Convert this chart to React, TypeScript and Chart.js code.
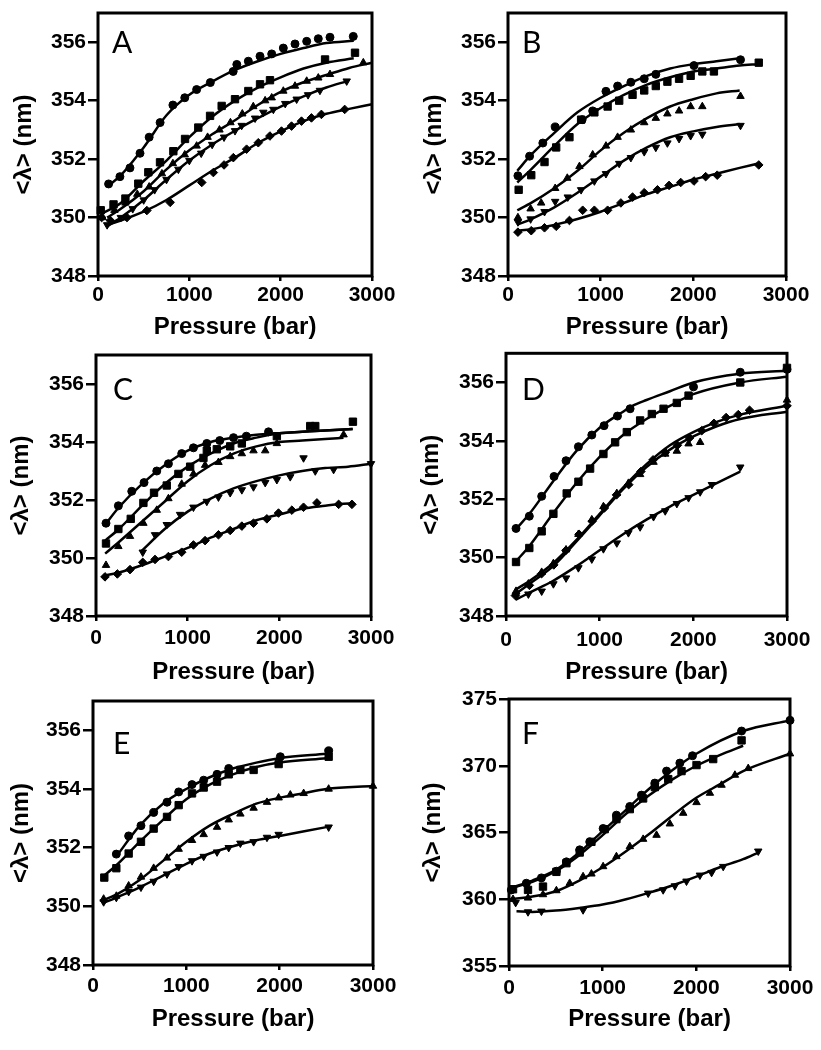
import React, { useEffect, useRef } from 'react';
import { Chart, registerables } from 'chart.js';

Chart.register(...registerables);

type Pt = [number, number];

// ---------- shared axis settings ----------
const X_MIN = 0;
const X_MAX = 3000;
const X_STEP = 1000;
const X_TITLE = 'Pressure (bar)';
const Y_TITLE = '<λ> (nm)';
const LETTERS = ['A', 'B', 'C', 'D', 'E', 'F'];
const Y_RANGE_ABCDE: [number, number, number] = [348, 357, 2];
const Y_RANGE_F: [number, number, number] = [355, 375, 5];

// ---------- Panel A ----------
const A_CIRCLE: Pt[] = [[116,351.15],[240,351.4],[350,351.7],[460,352.2],[560,352.75],[680,353.25],[820,353.85],[950,354.1],[1080,354.38],[1230,354.62],[1480,355.0],[1520,355.24],[1646,355.35],[1774,355.52],[1902,355.6],[2029,355.8],[2157,355.94],[2285,356.03],[2412,356.12],[2540,356.17],[2795,356.2]];
const A_CIRCLE_FIT: Pt[] = [[100,351.05],[250,351.45],[500,352.4],[750,353.5],[1000,354.2],[1250,354.65],[1500,355.05],[1750,355.35],[2000,355.6],[2250,355.8],[2500,355.97],[2800,356.05]];
const A_SQUARE: Pt[] = [[30,350.25],[170,350.45],[300,350.65],[441,351.16],[551,351.55],[679,351.89],[825,352.27],[953,352.69],[1098,353.08],[1227,353.48],[1354,353.82],[1500,354.05],[1646,354.33],[1774,354.56],[1883,354.7],[2486,355.41],[2814,355.64]];
const A_SQUARE_FIT: Pt[] = [[50,350.15],[250,350.5],[500,351.25],[750,351.95],[1000,352.75],[1250,353.45],[1500,354.0],[1750,354.45],[2000,354.8],[2250,355.1],[2500,355.3],[2800,355.45]];
const A_UP: Pt[] = [[50,350.0],[180,350.25],[300,350.5],[430,350.8],[560,351.05],[700,351.5],[820,351.85],[950,352.15],[1080,352.45],[1200,352.75],[1330,353.0],[1450,353.25],[1580,353.55],[1700,353.8],[1830,354.0],[1902,354.1],[2029,354.33],[2157,354.5],[2285,354.67],[2412,354.78],[2540,354.9],[2905,355.3]];
const A_UP_FIT: Pt[] = [[100,350.0],[250,350.3],[500,350.9],[750,351.65],[1000,352.3],[1250,352.85],[1500,353.33],[1750,353.85],[2000,354.3],[2250,354.63],[2500,354.88],[2750,355.12],[3000,355.3]];
const A_DOWN: Pt[] = [[100,349.75],[250,350.0],[380,350.3],[500,350.6],[620,350.95],[750,351.3],[880,351.65],[1000,351.95],[1130,352.2],[1250,352.5],[1380,352.75],[1500,352.97],[1573,353.15],[1720,353.4],[1810,353.6],[1920,353.7],[2050,353.9],[2175,354.05],[2300,354.2],[2430,354.35],[2723,354.67]];
const A_DOWN_FIT: Pt[] = [[100,349.7],[250,350.0],[500,350.6],[750,351.3],[1000,351.95],[1250,352.5],[1500,352.97],[1750,353.4],[2000,353.8],[2250,354.15],[2500,354.45],[2730,354.67]];
const A_DIAMOND: Pt[] = [[40,350.0],[135,349.9],[317,350.0],[535,350.24],[790,350.52],[1136,351.2],[1263,351.54],[1380,351.8],[1482,352.05],[1627,352.34],[1755,352.56],[1882,352.79],[2009,352.96],[2119,353.13],[2228,353.3],[2337,353.41],[2446,353.53],[2701,353.7]];
const A_DIAMOND_FIT: Pt[] = [[100,349.75],[250,349.9],[500,350.2],[750,350.6],[1000,351.1],[1250,351.6],[1500,352.05],[1750,352.55],[2000,352.95],[2250,353.3],[2500,353.55],[2750,353.72],[3000,353.88]];

// ---------- Panel B ----------
const B_CIRCLE: Pt[] = [[107,351.43],[233,352.1],[376,352.55],[509,353.1],[800,353.35],[914,353.65],[1057,354.32],[1183,354.5],[1326,354.63],[1470,354.75],[1595,354.9],[2007,355.2],[2509,355.4]];
const B_CIRCLE_FIT: Pt[] = [[100,351.6],[250,352.15],[500,352.9],[750,353.6],[1000,354.1],[1250,354.5],[1500,354.85],[1750,355.1],[2000,355.25],[2250,355.35],[2500,355.45]];
const B_SQUARE: Pt[] = [[115,350.95],[251,351.45],[394,351.9],[520,352.4],[663,352.75],[789,353.35],[932,353.6],[1075,353.8],[1200,354.0],[1344,354.2],[1470,354.35],[1595,354.5],[1720,354.65],[1846,354.75],[1971,354.85],[2097,355.0],[2222,355.0],[2706,355.3]];
const B_SQUARE_FIT: Pt[] = [[100,351.2],[250,351.65],[500,352.45],[750,353.2],[1000,353.75],[1250,354.2],[1500,354.55],[1750,354.8],[2000,355.0],[2250,355.1],[2500,355.2],[2700,355.25]];
const B_UP: Pt[] = [[107,350.0],[244,350.3],[358,350.5],[509,351.0],[640,351.35],[771,351.75],[914,352.15],[1057,352.45],[1183,352.75],[1326,353.0],[1470,353.25],[1595,353.4],[1720,353.55],[1846,353.65],[1971,353.8],[2097,353.8],[2509,354.15]];
const B_UP_FIT: Pt[] = [[100,350.25],[250,350.5],[500,351.0],[750,351.6],[1000,352.3],[1250,352.9],[1500,353.4],[1750,353.8],[2000,354.05],[2250,354.25],[2500,354.35]];
const B_DOWN: Pt[] = [[107,349.85],[244,349.95],[394,350.2],[509,350.55],[645,350.7],[789,350.95],[932,351.25],[1057,351.5],[1200,351.85],[1326,352.05],[1470,352.25],[1595,352.4],[1720,352.55],[1846,352.7],[1971,352.8],[2097,352.85],[2509,353.15]];
const B_DOWN_FIT: Pt[] = [[100,349.75],[250,349.95],[500,350.35],[750,350.85],[1000,351.4],[1250,351.95],[1500,352.4],[1750,352.75],[2000,352.95],[2250,353.1],[2500,353.2]];
const B_DIAMOND: Pt[] = [[107,349.5],[251,349.55],[394,349.65],[520,349.7],[663,349.9],[806,350.25],[932,350.25],[1075,350.25],[1218,350.5],[1344,350.7],[1470,350.85],[1613,350.95],[1738,351.1],[1864,351.2],[2007,351.25],[2133,351.4],[2258,351.45],[2706,351.8]];
const B_DIAMOND_FIT: Pt[] = [[100,349.55],[250,349.6],[500,349.75],[750,349.95],[1000,350.2],[1250,350.5],[1500,350.8],[1750,351.05],[2000,351.3],[2250,351.5],[2500,351.7],[2700,351.85]];

// ---------- Panel C ----------
const C_CIRCLE: Pt[] = [[109,351.2],[244,351.8],[390,352.3],[524,352.6],[663,353.0],[790,353.25],[935,353.6],[1063,353.8],[1209,353.95],[1350,354.05],[1500,354.15],[1640,354.2],[1882,354.35]];
const C_CIRCLE_FIT: Pt[] = [[100,351.15],[250,351.75],[500,352.55],[750,353.2],[1000,353.7],[1250,354.0],[1500,354.15],[1750,354.25],[2000,354.3],[2250,354.35],[2500,354.4],[2800,354.45]];
const C_SQUARE: Pt[] = [[109,350.5],[244,351.0],[379,351.35],[517,351.9],[633,352.25],[772,352.5],[899,352.9],[1027,353.15],[1172,353.45],[1209,353.7],[1318,353.75],[1464,353.85],[1591,353.95],[1973,354.2],[2337,354.55],[2392,354.55],[2803,354.7]];
const C_SQUARE_FIT: Pt[] = [[100,350.6],[250,351.0],[500,351.8],[750,352.55],[1000,353.15],[1250,353.6],[1500,353.95],[1750,354.15],[2000,354.3],[2250,354.35],[2500,354.4],[2800,354.45]];
const C_UP: Pt[] = [[109,349.75],[244,350.4],[371,350.75],[517,351.2],[663,351.65],[790,352.05],[935,352.55],[1063,352.9],[1190,353.2],[1336,353.3],[1464,353.5],[1591,353.6],[1718,353.7],[1846,353.7],[1973,353.95],[2701,354.25]];
const C_UP_FIT: Pt[] = [[100,350.15],[250,350.55],[500,351.25],[750,351.95],[1000,352.65],[1250,353.2],[1500,353.6],[1750,353.85],[2000,354.0],[2250,354.05],[2500,354.1],[2700,354.15]];
const C_DOWN: Pt[] = [[510,350.2],[644,350.8],[772,351.15],[917,351.5],[1063,351.75],[1209,351.95],[1336,352.1],[1464,352.25],[1591,352.35],[1718,352.45],[1846,352.6],[1973,352.7],[2119,352.8],[2264,353.45],[2392,353.0],[2592,353.05],[3000,353.25]];
const C_DOWN_FIT: Pt[] = [[500,350.25],[750,351.0],[1000,351.6],[1250,352.05],[1500,352.4],[1750,352.65],[2000,352.85],[2250,353.0],[2500,353.1],[2750,353.15],[3000,353.25]];
const C_DIAMOND: Pt[] = [[98,349.35],[233,349.45],[371,349.6],[510,349.85],[644,349.95],[790,350.05],[935,350.2],[1063,350.45],[1190,350.6],[1336,350.8],[1464,350.95],[1591,351.1],[1718,351.2],[1864,351.35],[1991,351.55],[2137,351.65],[2264,351.75],[2410,351.9],[2647,351.85],[2792,351.85]];
const C_DIAMOND_FIT: Pt[] = [[100,349.4],[250,349.5],[500,349.75],[750,350.05],[1000,350.35],[1250,350.7],[1500,351.0],[1750,351.3],[2000,351.5],[2250,351.7],[2500,351.8],[2800,351.9]];

// ---------- Panel D ----------
const D_CIRCLE: Pt[] = [[107,351.0],[249,351.42],[381,352.1],[513,352.78],[641,353.32],[773,353.8],[916,354.2],[1047,354.52],[1190,354.85],[1325,355.1],[2002,355.85],[2501,356.35],[3000,356.45]];
const D_CIRCLE_FIT: Pt[] = [[100,350.95],[250,351.5],[500,352.6],[750,353.65],[1000,354.45],[1250,355.0],[1350,355.2],[1500,355.4],[1750,355.7],[2000,356.0],[2500,356.3],[3000,356.4]];
const D_SQUARE: Pt[] = [[107,349.85],[249,350.33],[381,350.9],[506,351.5],[648,352.2],[773,352.6],[898,353.05],[1040,353.55],[1165,353.95],[1290,354.3],[1432,354.7],[1557,354.92],[1682,355.1],[1824,355.3],[1949,355.55],[2501,356.0],[3000,356.5]];
const D_SQUARE_FIT: Pt[] = [[100,349.85],[250,350.4],[500,351.5],[750,352.55],[1000,353.45],[1250,354.2],[1500,354.75],[1750,355.2],[2000,355.6],[2500,356.0],[3000,356.2]];
const D_UP: Pt[] = [[107,348.85],[239,349.1],[381,349.5],[506,349.8],[641,350.27],[773,350.8],[916,351.3],[1040,351.75],[1183,352.2],[1307,352.55],[1432,352.85],[1575,353.27],[1700,353.55],[1824,353.65],[1949,353.9],[2073,353.95],[3000,355.4]];
const D_UP_FIT: Pt[] = [[100,348.9],[250,349.2],[500,349.8],[750,350.6],[1000,351.5],[1250,352.4],[1500,353.2],[1750,353.85],[2000,354.3],[2250,354.65],[2500,354.9],[3000,355.2]];
const D_DIAMOND: Pt[] = [[100,348.7],[250,349.05],[380,349.45],[510,349.75],[640,350.25],[780,350.8],[920,351.25],[1050,351.7],[1180,352.15],[1310,352.5],[1440,352.95],[1570,353.35],[1700,353.6],[1830,353.85],[1960,354.1],[2090,354.35],[2220,354.6],[2350,354.8],[2480,354.9],[2600,355.05],[3000,355.2]];
const D_DIAMOND_FIT: Pt[] = [[100,348.75],[250,349.1],[500,349.7],[750,350.55],[1000,351.45],[1250,352.35],[1500,353.1],[1750,353.7],[2000,354.15],[2250,354.5],[2500,354.75],[3000,355.0]];
const D_DOWN: Pt[] = [[107,348.7],[239,348.75],[381,348.85],[506,349.1],[641,349.3],[773,349.65],[916,349.95],[1040,350.3],[1183,350.5],[1307,350.85],[1432,351.05],[1575,351.4],[1700,351.6],[1824,351.85],[1949,352.05],[2073,352.25],[2198,352.5],[2501,353.1]];
const D_DOWN_FIT: Pt[] = [[100,348.55],[250,348.8],[500,349.2],[750,349.7],[1000,350.25],[1250,350.8],[1500,351.3],[1750,351.75],[2000,352.15],[2250,352.55],[2500,352.95]];

// ---------- Panel E ----------
const E_CIRCLE: Pt[] = [[250,351.78],[382,352.4],[514,352.75],[650,353.2],[793,353.55],[918,353.9],[1061,354.15],[1186,354.3],[1329,354.5],[1454,354.7],[2007,355.1],[2525,355.3]];
const E_CIRCLE_FIT: Pt[] = [[250,351.7],[500,352.75],[750,353.5],[1000,354.0],[1250,354.4],[1500,354.7],[1750,354.9],[2000,355.05],[2500,355.2]];
const E_SQUARE: Pt[] = [[121,350.98],[250,351.3],[382,351.8],[514,352.2],[650,352.65],[793,353.05],[918,353.45],[1061,353.85],[1186,354.05],[1329,354.25],[1454,354.5],[1579,354.65],[1721,354.65],[1989,354.85],[2525,355.1]];
const E_SQUARE_FIT: Pt[] = [[100,351.0],[250,351.4],[500,352.2],[750,352.95],[1000,353.65],[1250,354.15],[1500,354.5],[1750,354.75],[2000,354.9],[2500,355.05]];
const E_UP: Pt[] = [[114,350.25],[250,350.35],[382,350.7],[514,351.0],[650,351.3],[793,351.65],[918,351.95],[1061,352.25],[1186,352.45],[1329,352.7],[1454,352.95],[1579,353.15],[1721,353.35],[1864,353.55],[1989,353.7],[2114,353.8],[2257,353.85],[2525,354.0],[3000,354.1]];
const E_UP_FIT: Pt[] = [[100,350.2],[250,350.4],[500,350.9],[750,351.55],[1000,352.2],[1250,352.75],[1500,353.15],[1750,353.5],[2000,353.7],[2250,353.85],[2500,354.0],[3000,354.1]];
const E_DOWN: Pt[] = [[114,350.15],[250,350.3],[382,350.5],[514,350.65],[650,350.85],[793,351.1],[918,351.35],[1061,351.55],[1186,351.7],[1329,351.85],[1454,352.0],[1579,352.15],[1721,352.2],[1864,352.35],[1989,352.45],[2525,352.7]];
const E_DOWN_FIT: Pt[] = [[100,350.1],[250,350.3],[500,350.65],[750,351.05],[1000,351.45],[1250,351.8],[1500,352.05],[1750,352.25],[2000,352.4],[2500,352.7]];

// ---------- Panel F ----------
const F_CIRCLE: Pt[] = [[25,360.7],[185,361.2],[346,361.6],[506,362.1],[613,362.8],[755,363.7],[862,364.3],[1005,365.3],[1147,366.3],[1290,366.95],[1414,367.8],[1557,368.7],[1682,369.6],[1824,370.2],[1959,370.75],[2483,372.6],[3000,373.4]];
const F_CIRCLE_FIT: Pt[] = [[0,360.8],[250,361.4],[500,362.2],[750,363.5],[1000,365.1],[1250,366.7],[1500,368.3],[1750,369.7],[2000,370.9],[2500,372.6],[3000,373.4]];
const F_SQUARE: Pt[] = [[43,360.75],[203,360.7],[363,360.95],[506,362.05],[613,362.7],[755,363.5],[880,364.3],[1022,365.25],[1147,366.0],[1290,366.75],[1432,367.55],[1557,368.4],[1700,369.0],[1842,369.6],[2002,370.05],[2180,370.5],[2483,371.9]];
const F_SQUARE_FIT: Pt[] = [[0,360.8],[250,361.3],[500,362.1],[750,363.3],[1000,364.8],[1250,366.4],[1500,367.8],[1750,369.0],[2000,370.0],[2250,370.8],[2500,371.5]];
const F_UP: Pt[] = [[43,360.0],[203,360.1],[363,360.35],[506,360.65],[648,361.2],[791,361.7],[880,361.9],[1005,362.45],[1147,363.2],[1290,363.95],[1432,364.5],[1575,364.8],[1717,365.65],[1860,366.45],[2002,367.25],[2145,367.95],[2269,368.55],[2412,369.3],[2554,369.8],[3000,370.9]];
const F_UP_FIT: Pt[] = [[0,360.0],[250,360.2],[500,360.6],[750,361.4],[1000,362.4],[1250,363.6],[1500,364.9],[1750,366.3],[2000,367.6],[2250,368.6],[2500,369.6],[3000,370.9]];
const F_DOWN: Pt[] = [[71,359.75],[203,359.05],[346,359.1],[791,359.2],[1486,360.45],[1646,360.7],[1771,361.0],[1895,361.35],[2038,361.8],[2163,362.0],[2287,362.45],[2661,363.6]];
const F_DOWN_FIT: Pt[] = [[80,359.1],[250,359.05],[500,359.15],[750,359.35],[1000,359.6],[1250,360.0],[1500,360.5],[1750,361.05],[2000,361.7],[2250,362.4],[2500,363.0],[2660,363.5]];

// ---------- styling ----------
const FONT = "'Liberation Sans', Arial, Helvetica, sans-serif";
const LETTER_FONT = "Lato, 'Open Sans', sans-serif";

type Shape = 'circle' | 'square' | 'up' | 'down' | 'diamond';
const SHAPE_STYLE: Record<Shape, { style: string; r: number; rot: number }> = {
  circle: { style: 'circle', r: 4, rot: 0 },
  square: { style: 'rect', r: 5.2, rot: 0 },
  up: { style: 'triangle', r: 4.3, rot: 0 },
  down: { style: 'triangle', r: 4.3, rot: 180 },
  diamond: { style: 'rectRot', r: 4.3, rot: 0 },
};

interface SeriesDef { shape: Shape; pts: Pt[]; fit: Pt[] }
interface PanelDef {
  letter: string;
  series: SeriesDef[];
  yRange: [number, number, number];
  left: number; top: number; w: number; h: number;
  yW: number; padTop: number; padRight: number; xH: number;
  xLabelPad: number; xTitlePad: number; yTitlePad: number;
  letterDx: number; letterDy: number;
}

const PANELS: PanelDef[] = [
  {
    letter: LETTERS[0], yRange: Y_RANGE_ABCDE,
    series: [
      { shape: 'circle', pts: A_CIRCLE, fit: A_CIRCLE_FIT },
      { shape: 'square', pts: A_SQUARE, fit: A_SQUARE_FIT },
      { shape: 'up', pts: A_UP, fit: A_UP_FIT },
      { shape: 'down', pts: A_DOWN, fit: A_DOWN_FIT },
      { shape: 'diamond', pts: A_DIAMOND, fit: A_DIAMOND_FIT },
    ],
    left: 0, top: 0, w: 410, h: 345, yW: 98, padTop: 13, padRight: 38, xH: 69,
    xLabelPad: 3.5, xTitlePad: 6, yTitlePad: 12, letterDx: 14, letterDy: 40,
  },
  {
    letter: LETTERS[1], yRange: Y_RANGE_ABCDE,
    series: [
      { shape: 'circle', pts: B_CIRCLE, fit: B_CIRCLE_FIT },
      { shape: 'square', pts: B_SQUARE, fit: B_SQUARE_FIT },
      { shape: 'up', pts: B_UP, fit: B_UP_FIT },
      { shape: 'down', pts: B_DOWN, fit: B_DOWN_FIT },
      { shape: 'diamond', pts: B_DIAMOND, fit: B_DIAMOND_FIT },
    ],
    left: 410, top: 0, w: 411, h: 345, yW: 98, padTop: 13, padRight: 35, xH: 69,
    xLabelPad: 3.5, xTitlePad: 6, yTitlePad: 12, letterDx: 14, letterDy: 40,
  },
  {
    letter: LETTERS[2], yRange: Y_RANGE_ABCDE,
    series: [
      { shape: 'circle', pts: C_CIRCLE, fit: C_CIRCLE_FIT },
      { shape: 'square', pts: C_SQUARE, fit: C_SQUARE_FIT },
      { shape: 'up', pts: C_UP, fit: C_UP_FIT },
      { shape: 'down', pts: C_DOWN, fit: C_DOWN_FIT },
      { shape: 'diamond', pts: C_DIAMOND, fit: C_DIAMOND_FIT },
    ],
    left: 0, top: 345, w: 410, h: 343, yW: 96, padTop: 10, padRight: 39, xH: 72,
    xLabelPad: 6.5, xTitlePad: 4, yTitlePad: 9, letterDx: 17, letterDy: 45,
  },
  {
    letter: LETTERS[3], yRange: Y_RANGE_ABCDE,
    series: [
      { shape: 'circle', pts: D_CIRCLE, fit: D_CIRCLE_FIT },
      { shape: 'square', pts: D_SQUARE, fit: D_SQUARE_FIT },
      { shape: 'up', pts: D_UP, fit: D_UP_FIT },
      { shape: 'diamond', pts: D_DIAMOND, fit: D_DIAMOND_FIT },
      { shape: 'down', pts: D_DOWN, fit: D_DOWN_FIT },
    ],
    left: 410, top: 345, w: 411, h: 343, yW: 96, padTop: 8, padRight: 34, xH: 72,
    xLabelPad: 8.5, xTitlePad: 4, yTitlePad: 9, letterDx: 16, letterDy: 47,
  },
  {
    letter: LETTERS[4], yRange: Y_RANGE_ABCDE,
    series: [
      { shape: 'circle', pts: E_CIRCLE, fit: E_CIRCLE_FIT },
      { shape: 'square', pts: E_SQUARE, fit: E_SQUARE_FIT },
      { shape: 'up', pts: E_UP, fit: E_UP_FIT },
      { shape: 'down', pts: E_DOWN, fit: E_DOWN_FIT },
    ],
    left: 0, top: 688, w: 410, h: 362, yW: 93, padTop: 13, padRight: 37, xH: 85,
    xLabelPad: 5.5, xTitlePad: 19, yTitlePad: 9, letterDx: 20, letterDy: 53,
  },
  {
    letter: LETTERS[5], yRange: Y_RANGE_F,
    series: [
      { shape: 'circle', pts: F_CIRCLE, fit: F_CIRCLE_FIT },
      { shape: 'square', pts: F_SQUARE, fit: F_SQUARE_FIT },
      { shape: 'up', pts: F_UP, fit: F_UP_FIT },
      { shape: 'down', pts: F_DOWN, fit: F_DOWN_FIT },
    ],
    left: 410, top: 688, w: 411, h: 362, yW: 99, padTop: 11, padRight: 31, xH: 84,
    xLabelPad: 6.5, xTitlePad: 19, yTitlePad: 11, letterDx: 13, letterDy: 45,
  },
];

const framePlugin = {
  id: 'frame',
  beforeDatasetsDraw(chart: any) {
    const { ctx, chartArea: a } = chart;
    ctx.save();
    ctx.strokeStyle = '#000';
    ctx.lineWidth = 3;
    ctx.strokeRect(a.left, a.top, a.right - a.left, a.bottom - a.top);
    ctx.restore();
  },
};

const letterPlugin = {
  id: 'panelLetter',
  afterDraw(chart: any, _args: any, opts: any) {
    const { ctx, chartArea: a } = chart;
    ctx.save();
    ctx.fillStyle = '#000';
    ctx.font = `400 30px ${LETTER_FONT}`;
    ctx.textAlign = 'left';
    ctx.textBaseline = 'alphabetic';
    ctx.fillText(opts.text, a.left + opts.dx, a.top + opts.dy);
    ctx.restore();
  },
};

function Panel({ cfg }: { cfg: PanelDef }) {
  const ref = useRef<HTMLCanvasElement>(null);
  useEffect(() => {
    if (!ref.current) return;
    const datasets: any[] = [];
    cfg.series.forEach((s) => {
      const st = SHAPE_STYLE[s.shape];
      datasets.push({
        data: s.fit.map(([x, y]) => ({ x, y })),
        showLine: true,
        pointRadius: 0,
        borderColor: '#000',
        borderWidth: 2.5,
        cubicInterpolationMode: 'monotone',
        fill: false,
        clip: false,
      });
      datasets.push({
        data: s.pts.map(([x, y]) => ({ x, y })),
        showLine: false,
        pointStyle: st.style,
        pointRadius: st.r,
        pointRotation: st.rot,
        backgroundColor: '#000',
        borderColor: '#000',
        borderWidth: 1,
        clip: false,
      });
    });
    const [yMin, yMax, yStep] = cfg.yRange;
    const chart = new Chart(ref.current, {
      type: 'scatter',
      data: { datasets },
      options: {
        responsive: false,
        animation: false,
        events: [],
        layout: { padding: { left: 0, top: cfg.padTop, right: cfg.padRight, bottom: 0 } },
        plugins: {
          legend: { display: false },
          tooltip: { enabled: false },
          panelLetter: { text: cfg.letter, dx: cfg.letterDx, dy: cfg.letterDy },
        } as any,
        scales: {
          x: {
            type: 'linear',
            min: X_MIN,
            max: X_MAX,
            ticks: {
              stepSize: X_STEP,
              color: '#000',
              padding: cfg.xLabelPad,
              maxRotation: 0,
              font: { family: FONT, size: 21, weight: 'bold', lineHeight: 1 },
              callback: (v: any) => String(v),
            },
            grid: { display: true, drawOnChartArea: false, drawTicks: true, tickLength: 5, color: '#000', lineWidth: 2.5 },
            border: { display: false },
            title: {
              display: true,
              text: X_TITLE,
              color: '#000',
              font: { family: FONT, size: 24, weight: 'bold', lineHeight: 1 },
              padding: { top: 0, bottom: cfg.xTitlePad },
            },
            afterFit: (s: any) => { s.height = cfg.xH; },
          },
          y: {
            type: 'linear',
            min: yMin,
            max: yMax,
            ticks: {
              stepSize: yStep,
              includeBounds: false,
              color: '#000',
              padding: 2,
              font: { family: FONT, size: 21, weight: 'bold', lineHeight: 0.6 },
              callback: (v: any) => String(v),
            },
            grid: { display: true, drawOnChartArea: false, drawTicks: true, tickLength: 10, color: '#000', lineWidth: 2.5 },
            border: { display: false },
            title: {
              display: true,
              text: Y_TITLE,
              color: '#000',
              font: { family: FONT, size: 24, weight: 'bold', lineHeight: 1 },
              padding: { top: cfg.yTitlePad, bottom: 0 },
            },
            afterFit: (s: any) => { s.width = cfg.yW; },
          },
        },
      } as any,
      plugins: [framePlugin, letterPlugin],
    });
    return () => chart.destroy();
  }, [cfg]);
  return (
    <canvas
      ref={ref}
      width={cfg.w}
      height={cfg.h}
      style={{ position: 'absolute', left: cfg.left, top: cfg.top, width: cfg.w, height: cfg.h }}
    />
  );
}

export default function App() {
  return (
    <div style={{ position: 'absolute', left: 0, top: 0, width: 821, height: 1050, background: '#fff', overflow: 'hidden' }}>
      {PANELS.map((p) => (
        <Panel key={p.letter} cfg={p} />
      ))}
    </div>
  );
}
